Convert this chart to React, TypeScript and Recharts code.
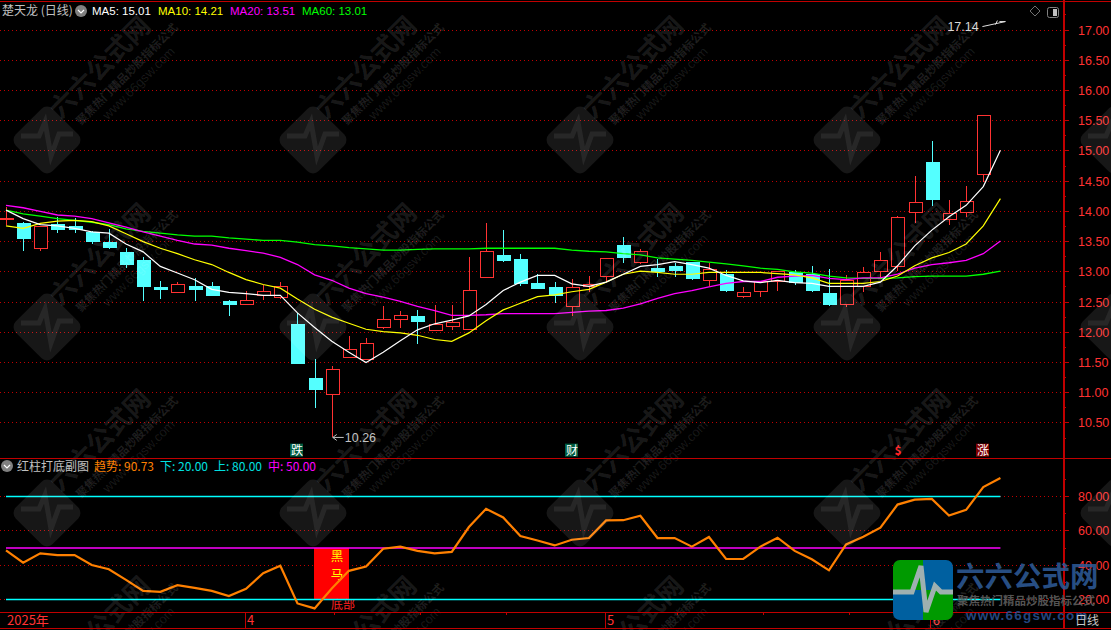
import React from "react";
import {
  Bar,
  CartesianGrid,
  ComposedChart,
  Line,
  ReferenceDot,
  XAxis,
  YAxis,
} from "recharts";

const opens = [
  13.87, 13.81, 13.4, 13.79, 13.76, 13.66, 13.49, 13.33, 13.2, 12.75, 12.66, 12.77, 12.77, 12.52, 12.47,
  12.62, 12.57, 12.14, 11.24, 10.99, 11.6, 11.56, 12.09, 12.21, 12.27, 12.03, 12.11, 12.05, 12.91, 13.27,
  13.22, 12.82, 12.75, 12.44, 12.77, 12.94, 13.45, 13.15, 13.07, 13.09, 13.17, 12.86, 12.96, 12.6, 12.69,
  12.85, 13.0, 12.96, 12.65, 12.46, 12.76, 13.01, 13.09, 13.99, 14.82, 13.87, 13.99, 14.61,
];
const highs = [
  14.07, 13.82, 13.76, 13.91, 13.89, 13.67, 13.71, 13.39, 13.24, 12.85, 12.83, 12.9, 12.83, 12.53, 12.68,
  12.78, 12.83, 12.32, 11.56, 11.44, 11.94, 11.91, 12.44, 12.35, 12.37, 12.45, 12.45, 13.24, 13.81, 13.7,
  13.3, 12.97, 12.83, 12.88, 12.93, 13.23, 13.58, 13.38, 13.22, 13.15, 13.17, 13.15, 13.03, 12.75, 12.85,
  13.01, 13.03, 13.09, 13.04, 12.94, 13.08, 13.33, 13.92, 14.59, 15.17, 14.19, 14.42, 15.59,
];
const lows = [
  13.78, 13.35, 13.34, 13.64, 13.65, 13.46, 13.38, 13.07, 12.51, 12.55, 12.66, 12.52, 12.62, 12.27, 12.47,
  12.54, 12.55, 11.5, 10.75, 10.26, 11.57, 11.56, 12.05, 12.07, 11.8, 12.03, 12.04, 12.05, 12.91, 13.17,
  12.77, 12.73, 12.48, 12.27, 12.67, 12.83, 13.14, 13.13, 12.92, 12.92, 12.87, 12.77, 12.67, 12.57, 12.59,
  12.69, 12.78, 12.66, 12.44, 12.42, 12.67, 12.88, 13.01, 13.81, 14.09, 13.77, 13.9, 14.49,
];
const closes = [
  13.89, 13.56, 13.76, 13.71, 13.71, 13.51, 13.4, 13.13, 12.77, 12.72, 12.8, 12.72, 12.62, 12.47, 12.53,
  12.68, 12.76, 11.5, 11.06, 11.4, 11.73, 11.83, 12.22, 12.28, 12.19, 12.13, 12.17, 12.7, 13.34, 13.18,
  12.82, 12.73, 12.62, 12.75, 12.8, 13.23, 13.25, 13.34, 13.02, 13.03, 12.9, 13.04, 12.7, 12.67, 12.85,
  13.01, 12.83, 12.69, 12.47, 12.86, 12.99, 13.19, 13.9, 14.15, 14.21, 13.97, 14.17, 15.59,
];

const ma5 = [
  14.02, 13.88, 13.78, 13.76, 13.72, 13.66, 13.64, 13.46, 13.33, 13.09, 12.98, 12.87, 12.71, 12.66, 12.64,
  12.61, 12.61, 12.32, 12.08, 11.85, 11.67, 11.5, 11.67, 11.86, 12.04, 12.14, 12.2, 12.27, 12.46, 12.69,
  12.83, 12.94, 12.94, 12.8, 12.76, 12.83, 12.96, 13.09, 13.12, 13.17, 13.12, 13.06, 12.94, 12.85, 12.82,
  12.86, 12.82, 12.81, 12.76, 12.76, 12.76, 12.83, 13.1, 13.43, 13.69, 13.91, 14.1, 14.41, 15.01,
];
const ma10 = [
  13.76, 13.72, 13.8, 13.84, 13.85, 13.83, 13.76, 13.63, 13.5, 13.39, 13.3, 13.2, 13.12, 12.99, 12.87,
  12.79, 12.73, 12.55, 12.38, 12.25, 12.15, 12.05, 12.01, 11.99, 11.95, 11.88, 11.85, 11.99, 12.19, 12.37,
  12.48, 12.59, 12.62, 12.67, 12.71, 12.83, 12.96, 13.01, 12.99, 12.96, 12.96, 12.99, 12.99, 12.99, 12.99,
  12.97, 12.95, 12.9, 12.81, 12.81, 12.81, 12.84, 12.93, 13.1, 13.23, 13.32, 13.46, 13.76, 14.21,
];
const ma20 = [
  14.1, 14.06, 14.0, 13.94, 13.92, 13.88, 13.81, 13.74, 13.66, 13.59, 13.52, 13.46, 13.44, 13.39, 13.35,
  13.31, 13.24, 13.12, 12.95, 12.86, 12.73, 12.64, 12.58, 12.51, 12.43, 12.36, 12.28, 12.28, 12.29, 12.31,
  12.31, 12.31, 12.31, 12.33, 12.35, 12.36, 12.4, 12.47, 12.56, 12.64, 12.69, 12.75, 12.81, 12.84, 12.84,
  12.91, 12.93, 12.94, 12.89, 12.87, 12.9, 12.9, 12.96, 13.06, 13.12, 13.15, 13.19, 13.3, 13.51,
];
const ma60 = [
  14.02, 13.96, 13.92, 13.88, 13.85, 13.82, 13.78, 13.71, 13.67, 13.64, 13.61, 13.59, 13.59, 13.56, 13.54,
  13.52, 13.52, 13.49, 13.45, 13.43, 13.4, 13.38, 13.36, 13.36, 13.37, 13.38, 13.38, 13.38, 13.39, 13.39,
  13.39, 13.39, 13.39, 13.36, 13.34, 13.33, 13.3, 13.28, 13.23, 13.21, 13.19, 13.16, 13.13, 13.1, 13.06,
  13.04, 13.0, 12.98, 12.93, 12.9, 12.89, 12.89, 12.9, 12.92, 12.93, 12.93, 12.93, 12.96, 13.01,
];
const trend = [
  48.6, 41.5, 46.9, 45.9, 45.9, 40.1, 37.6, 31.4, 25.0, 24.5, 28.3, 26.8, 25.0, 22.0, 26.2, 35.3, 39.7, 17.7,
  14.8, 26.4, 36.7, 39.2, 49.6, 50.8, 48.3, 46.9, 47.7, 62.2, 72.8, 67.8, 57.0, 54.4, 51.5, 54.8, 55.8, 66.1,
  66.2, 68.8, 55.8, 55.8, 50.8, 56.4, 43.6, 43.6, 50.8, 56.0, 48.3, 43.4, 37.0, 52.1, 56.6, 61.8, 75.3, 78.2,
  78.6, 68.9, 72.2, 85.5, 90.73,
];

const lowerLevel = 20;
const upperLevel = 80;
const middleLevel = 50;
const markIndex = 19;
const highLabel = { index: 58, value: 17.14 };
const lowLabel = { index: 19, value: 10.26 };
const signals = [
  { index: 17, text: "跌", bg: "#005c40", color: "#ffffff" },
  { index: 33, text: "财", bg: "#005c40", color: "#ffffff" },
  { index: 52, text: "$", bg: "none", color: "#ff2020" },
  { index: 57, text: "涨", bg: "#800000", color: "#ffffff" },
];
const signalPrice = 10.05;

const priceTicks = [17, 16.5, 16, 15.5, 15, 14.5, 14, 13.5, 13, 12.5, 12, 11.5, 11, 10.5];
const priceMinorTicks = [17.25, 16.75, 16.25, 15.75, 15.25, 14.75, 14.25, 13.75, 13.25, 12.75, 12.25, 11.75, 11.25, 10.75, 10.25];
const trendTicks = [80, 60, 40, 20];
const trendMinorTicks = [90, 70, 50, 30];
const monthTicks = [
  { index: 0, label: "2025年" },
  { index: 14, label: "4" },
  { index: 35, label: "5" },
  { index: 54, label: "6" },
];
const weekTicks = [19, 24, 29, 39, 44, 49];

const mainData = ma5.map((v, i) => ({
  i,
  open: opens[i],
  high: highs[i],
  low: lows[i],
  close: closes[i],
  range: highs[i] === undefined ? null : [lows[i], highs[i]],
  ma5: v,
  ma10: ma10[i],
  ma20: ma20[i],
  ma60: ma60[i],
}));

const subData = trend.map((v, i) => ({
  i,
  trend: v,
  lower: lowerLevel,
  upper: upperLevel,
  middle: middleLevel,
  mark: i === markIndex ? [lowerLevel, middleLevel] : null,
}));

const RED = "#ff3232";
const CYAN = "#54ffff";
const FRAME = "#c00000";
const GRID = "#c00000";
const NUM_FONT = '"Liberation Sans", Arial, sans-serif';
const CJK_FONT = '"Noto Sans CJK SC", "Liberation Sans", sans-serif';
const xDomain: [number, number] = [-0.35, 61.65];

const CandleShape = (props: any) => {
  const { x, y, width, height, payload } = props;
  if (!payload || payload.high === undefined) return null;
  const cx = Math.round(x + width / 2) + 0.5;
  const top = Math.min(y, y + height);
  const h = Math.abs(height);
  const unit = h / (payload.high - payload.low);
  const up = payload.close >= payload.open;
  const bodyTop = top + (payload.high - Math.max(payload.open, payload.close)) * unit;
  const bodyH = Math.max(Math.abs(payload.close - payload.open) * unit, 1);
  const color = up ? RED : CYAN;
  return (
    <g shapeRendering="crispEdges">
      <line x1={cx} x2={cx} y1={top} y2={top + h} stroke={color} />
      <rect
        x={cx - 6.5}
        y={Math.round(bodyTop) + 0.5}
        width={13}
        height={Math.round(bodyH)}
        fill={up ? "#000000" : color}
        stroke={color}
      />
    </g>
  );
};

const MarkShape = (props: any) => {
  const { x, y, width, height } = props;
  if (!height) return null;
  const cx = x + width / 2;
  // the column is wider than one trading day
  return (
    <g fontFamily={CJK_FONT} shapeRendering="crispEdges">
      <rect x={cx - 17.5} y={y} width={35} height={height} fill="#ff0000" />
      <text x={cx + 5} y={y + 13} fontSize={12.5} fill="#ffff00" textAnchor="middle">黑</text>
      <text x={cx + 5} y={y + 31} fontSize={12.5} fill="#ffff00" textAnchor="middle">马</text>
      <text x={cx + 11} y={y + height + 9} fontSize={12} fill="#ff2020" textAnchor="middle">底部</text>
    </g>
  );
};

const ValueTick = (props: any) => {
  const { x, y, payload, majors, digits } = props;
  const major = majors.includes(payload.value);
  return (
    <g>
      <line x1={x} x2={x + (major ? 6 : 3)} y1={y} y2={y} stroke={FRAME} shapeRendering="crispEdges" />
      {major && (
        <text x={x + 15} y={y + 4.5} fontSize={12.5} fontFamily={NUM_FONT} fill={RED}>
          {payload.value.toFixed(digits)}
        </text>
      )}
    </g>
  );
};

const DateTick = (props: any) => {
  const { x, y, payload } = props;
  const month = monthTicks.find((m) => m.index === payload.value);
  if (!month) {
    return <line x1={x + 3} x2={x + 3} y1={y} y2={y + 3} stroke={FRAME} shapeRendering="crispEdges" />;
  }
  return (
    <g>
      {month.index > 0 && <line x1={x - 1} x2={x - 1} y1={y} y2={y + 16} stroke={FRAME} shapeRendering="crispEdges" />}
      <text x={x + 1} y={y + 13} fontSize={13} fontFamily={CJK_FONT} fill={RED}>
        {month.label}
      </text>
    </g>
  );
};

const SignalChip = (props: any) => {
  const { cx, cy, text, bg, color } = props;
  const x = Math.round(cx);
  return (
    <g fontFamily={CJK_FONT}>
      {bg !== "none" && <rect x={x - 7} y={cy - 6.5} width={13} height={13} fill={bg} />}
      <text x={x} y={cy + 4.5} fontSize={12} fontWeight={text === "$" ? 700 : 400} fill={color} textAnchor="middle">
        {text}
      </text>
    </g>
  );
};

const LowArrow = (props: any) => {
  const { cx, cy } = props;
  return (
    <g stroke="#c0c0c0" fill="none">
      <path d={`M${cx + 1} ${cy}H${cx + 12}M${cx + 1} ${cy}l4 -3M${cx + 1} ${cy}l4 3`} />
      <text x={cx + 13} y={cy + 4.5} fontSize={12.5} fontFamily={NUM_FONT} fill="#c0c0c0" stroke="none">
        {lowLabel.value.toFixed(2)}
      </text>
    </g>
  );
};

const HighArrow = (props: any) => {
  const { cx, cy } = props;
  return (
    <g stroke="#e0e0e0" fill="none">
      <path d={`M${cx - 18} ${cy + 5}L${cx + 5} ${cy}M${cx + 5} ${cy}h-6M${cx - 3} ${cy - 1}l-2 4`} />
      <text x={cx - 53} y={cy + 9} fontSize={12.5} fontFamily={NUM_FONT} fill="#d8d8d8" stroke="none">
        {highLabel.value.toFixed(2)}
      </text>
    </g>
  );
};

const Watermark = ({ x, y }: { x: number; y: number }) => (
  <g transform={`translate(${x} ${y}) rotate(-45)`}>
    <rect x={-26} y={-26} width={52} height={52} rx={8} fill="rgba(255,255,255,0.09)" />
    <path
      d="M-26 -4H-8L-2 -18L4 16L12 -6L26 -6"
      transform="rotate(45)"
      fill="none"
      stroke="rgba(255,255,255,0.07)"
      strokeWidth={5}
    />
    {x < 1100 && (
      <g>
        <text x={24} y={-5} fontSize={26} fontWeight={700} fontFamily={CJK_FONT} fill="rgba(255,255,255,0.11)">
          六六公式网
        </text>
        <text x={34} y={14} fontSize={11.5} fontWeight={700} fontFamily={CJK_FONT} fill="rgba(255,255,255,0.12)">
          聚焦热门精品炒股指标公式
        </text>
        <text x={57} y={29} fontSize={13} fontFamily={NUM_FONT} fill="rgba(255,255,255,0.10)">
          www.66gsw.com
        </text>
      </g>
    )}
  </g>
);

const tileX = [47, 313, 580, 847, 1114];
const tileY = [140, 327, 513, 700];

const Overlay = () => (
  <svg width={1111} height={630} style={{ position: "absolute", left: 0, top: 0, pointerEvents: "none" }}>
    {tileY.map((y) => tileX.map((x) => <Watermark key={`${x}-${y}`} x={x} y={y} />))}

    {/* frame */}
    <g stroke={FRAME} shapeRendering="crispEdges">
      <line x1={0} x2={1111} y1={1.5} y2={1.5} />
      <line x1={0} x2={1111} y1={458.5} y2={458.5} />
      <line x1={0} x2={1111} y1={612.5} y2={612.5} />
      <line x1={0} x2={1111} y1={628.5} y2={628.5} />
      <line x1={1063.5} x2={1063.5} y1={0} y2={629} strokeWidth={2} />
    </g>

    {/* main header */}
    <text x={2} y={15} fontSize={12} fontFamily={CJK_FONT} fill="#c0c0c0">楚天龙 (日线)</text>
    <circle cx={81} cy={11} r={6} fill="#808080" />
    <path d="M78 10l3 3l3 -3" fill="none" stroke="#ffffff" strokeWidth={1.2} />
    <g fontSize={11.5} fontFamily={NUM_FONT}>
      <text x={92} y={15} fill="#ffffff">MA5: {ma5[58].toFixed(2)}</text>
      <text x={158} y={15} fill="#ffff00">MA10: {ma10[58].toFixed(2)}</text>
      <text x={230} y={15} fill="#ff00ff">MA20: {ma20[58].toFixed(2)}</text>
      <text x={302} y={15} fill="#00ff00">MA60: {ma60[58].toFixed(2)}</text>
    </g>
    <path d="M1035 6l5 5l-5 5l-5 -5z" fill="none" stroke="#707070" />
    <rect x={1047.5} y={7.5} width={11} height={10} rx={2} fill="none" stroke="#808080" />
    <rect x={1053} y={9} width={4} height={7} fill="#c0c0c0" />

    {/* sub header */}
    <circle cx={7} cy={466} r={6} fill="#808080" />
    <path d="M4 465l3 3l3 -3" fill="none" stroke="#ffffff" strokeWidth={1.2} />
    <text x={17} y={471} fontSize={12} fontFamily={CJK_FONT} fill="#c0c0c0">红柱打底副图</text>
    <g fontSize={12} fontFamily={CJK_FONT}>
      <text x={94} y={471} fill="#ff8000">趋势: {trend[58].toFixed(2)}</text>
      <text x={160} y={471} fill="#00e0e0">下: {lowerLevel.toFixed(2)}</text>
      <text x={214} y={471} fill="#00e0e0">上: {upperLevel.toFixed(2)}</text>
      <text x={268} y={471} fill="#ff00ff">中: {middleLevel.toFixed(2)}</text>
    </g>

    {/* site logo */}
    <clipPath id="logoClip">
      <rect x={893} y={560} width={60} height={60} rx={7} />
    </clipPath>
    <g clipPath="url(#logoClip)">
      <rect x={893} y={560} width={30} height={30} fill="#009a00" />
      <rect x={923} y={560} width={30} height={30} fill="#0060a0" />
      <rect x={893} y={590} width={30} height={30} fill="#0060a0" />
      <rect x={923} y={590} width={30} height={30} fill="#009a00" />
      <path d="M893 592H912L921 566L926 612L935 586L941 592H953" fill="none" stroke="#9fb0b0" strokeWidth={5} />
    </g>
    <text x={956} y={587} fontSize={28.5} fontWeight={700} fontFamily={CJK_FONT} fill="rgba(45,90,150,0.88)">六六公式网</text>
    <text x={957} y={605} fontSize={11.5} fontWeight={700} fontFamily={CJK_FONT} fill="rgba(95,95,95,0.9)">聚焦热门精品炒股指标公式</text>
    <text x={966} y={620} fontSize={13.5} fontWeight={700} letterSpacing={1.2} fontFamily={NUM_FONT} fill="rgba(40,80,145,0.9)">www.66gsw.com</text>
    <text x={1075} y={625} fontSize={12} fontFamily={CJK_FONT} fill="#c8c8c8">日线</text>
  </svg>
);

const lineProps = { dot: false, activeDot: false, isAnimationActive: false } as any;

const App = () => (
  <div style={{ position: "absolute", left: 0, top: 0, width: 1111, height: 630, background: "#000", overflow: "hidden" }}>
    <div style={{ position: "absolute", left: 0, top: 5 }}>
      <ComposedChart width={1111} height={453} data={mainData} margin={{ top: 0, right: 0, bottom: 0, left: 0 }}>
        <CartesianGrid vertical={false} stroke={GRID} strokeDasharray="1 3" horizontalValues={priceTicks} shapeRendering="crispEdges" />
        <XAxis type="number" dataKey="i" domain={xDomain} hide allowDataOverflow />
        <YAxis
          orientation="right"
          width={48}
          domain={[9.92, 17.414]}
          ticks={[...priceTicks, ...priceMinorTicks]}
          interval={0}
          axisLine={false}
          tickLine={false}
          tickSize={0}
          tickMargin={0}
          allowDataOverflow
          tick={<ValueTick majors={priceTicks} digits={2} />}
        />
        <Bar dataKey="range" barSize={13} shape={<CandleShape />} isAnimationActive={false} />
        <Line dataKey="ma60" stroke="#00ff00" strokeWidth={1.3} {...lineProps} />
        <Line dataKey="ma20" stroke="#ff00ff" strokeWidth={1.3} {...lineProps} />
        <Line dataKey="ma10" stroke="#ffff00" strokeWidth={1.2} {...lineProps} />
        <Line dataKey="ma5" stroke="#ffffff" strokeWidth={1.2} {...lineProps} />
        <ReferenceDot x={lowLabel.index} y={lowLabel.value} shape={<LowArrow />} />
        <ReferenceDot x={highLabel.index} y={highLabel.value} shape={<HighArrow />} />
        {signals.map((s) => (
          <ReferenceDot key={s.index} x={s.index} y={signalPrice} shape={<SignalChip {...s} />} />
        ))}
      </ComposedChart>
    </div>

    <div style={{ position: "absolute", left: 0, top: 459 }}>
      <ComposedChart width={1111} height={169} data={subData} margin={{ top: 0, right: 0, bottom: 0, left: 0 }}>
        <CartesianGrid vertical={false} stroke={GRID} strokeDasharray="1 3" horizontalValues={trendTicks} shapeRendering="crispEdges" />
        <XAxis
          type="number"
          dataKey="i"
          domain={xDomain}
          height={16}
          ticks={[...monthTicks.map((m) => m.index), ...weekTicks]}
          interval={0}
          axisLine={false}
          tickLine={false}
          tickSize={0}
          tickMargin={0}
          allowDataOverflow
          tick={<DateTick />}
        />
        <YAxis
          orientation="right"
          width={48}
          domain={[12.72, 101.845]}
          ticks={[...trendTicks, ...trendMinorTicks]}
          interval={0}
          axisLine={false}
          tickLine={false}
          tickSize={0}
          tickMargin={0}
          allowDataOverflow
          tick={<ValueTick majors={trendTicks} digits={2} />}
        />
        <Line dataKey="upper" stroke="#00ffff" strokeWidth={1.4} {...lineProps} />
        <Line dataKey="lower" stroke="#00ffff" strokeWidth={1.4} {...lineProps} />
        <Line dataKey="middle" stroke="#ff00ff" strokeWidth={1.6} {...lineProps} />
        <Line dataKey="trend" stroke="#ff8000" strokeWidth={2.2} {...lineProps} />
        <Bar dataKey="mark" barSize={35} shape={<MarkShape />} isAnimationActive={false} />
      </ComposedChart>
    </div>

    <Overlay />
  </div>
);

export default App;
